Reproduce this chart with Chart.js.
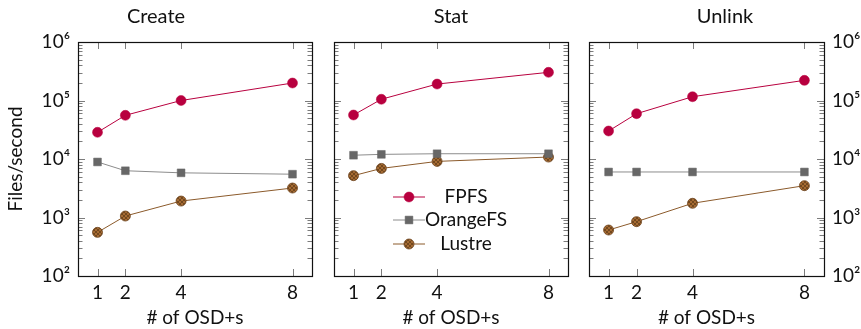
<!DOCTYPE html>
<html>
<head>
<meta charset="utf-8">
<script src="https://cdn.jsdelivr.net/npm/chart.js@4"></script>
<style>
  html, body { margin: 0; padding: 0; background: #fff; }
  #wrap { position: relative; width: 861px; height: 329px; }
  canvas { position: absolute; top: 0; }
</style>
</head>
<body>
<div id="wrap">
  <canvas id="c1" width="318" height="329" style="left:0px"></canvas>
  <canvas id="c2" width="246" height="329" style="left:328px"></canvas>
  <canvas id="c3" width="278" height="329" style="left:583px"></canvas>
</div>
<script>
(function () {
    "use strict";

    // x categories and y tick values
    const osds = [1, 2, 4, 8];
    const yTicks = [1e2, 1e3, 1e4, 1e5, 1e6];

    // Files/second
    const fpfsCreate = [28600, 55800, 100000, 199000];
    const orangeCreate = [8900, 6300, 5800, 5500];
    const lustreCreate = [557, 1060, 1910, 3190];

    const fpfsStat = [56500, 105000, 191000, 303000];
    const orangeStat = [11600, 12000, 12300, 12300];
    const lustreStat = [5190, 6900, 9100, 10800];

    const fpfsUnlink = [30100, 59500, 116000, 221000];
    const orangeUnlink = [6000, 6000, 6000, 6000];
    const lustreUnlink = [611, 849, 1750, 3500];

    const FONT = 'Lato, "DejaVu Sans", sans-serif';
    const sup = { 2: '\u00b2', 3: '\u00b3', 4: '\u2074', 5: '\u2075', 6: '\u2076' };

    // crosshatch fill for the Lustre markers
    function hatch() {
        const c = document.createElement('canvas');
        c.width = 4; c.height = 4;
        const g = c.getContext('2d');
        g.fillStyle = '#a56a32';
        g.fillRect(0, 0, 4, 4);
        g.strokeStyle = '#5c3915';
        g.lineWidth = 0.7;
        g.beginPath();
        g.moveTo(0, 0); g.lineTo(4, 4);
        g.moveTo(4, 0); g.lineTo(0, 4);
        g.stroke();
        return g.createPattern(c, 'repeat');
    }
    const lustreFill = hatch();

    function pts(vals) {
        return osds.map((x, i) => ({ x: x, y: vals[i] }));
    }

    function makeSets(f, o, l) {
        return [
            {
                label: 'FPFS', data: pts(f),
                borderColor: '#b8003f', backgroundColor: '#b8003f',
                pointBackgroundColor: '#b8003f', pointBorderColor: '#b8003f',
                pointStyle: 'circle', pointRadius: 5, pointBorderWidth: 0.5,
                borderWidth: 1, tension: 0
            },
            {
                label: 'OrangeFS', data: pts(o),
                borderColor: '#8c8c8c', backgroundColor: '#676767',
                pointBackgroundColor: '#676767', pointBorderColor: '#676767',
                pointStyle: 'rect', pointRadius: 5.5, pointBorderWidth: 0.5,
                borderWidth: 1, tension: 0
            },
            {
                label: 'Lustre', data: pts(l),
                borderColor: '#8b5a2b', backgroundColor: lustreFill,
                pointBackgroundColor: lustreFill, pointBorderColor: '#6e4520',
                pointStyle: 'circle', pointRadius: 5, pointBorderWidth: 0.8,
                borderWidth: 1, tension: 0
            }
        ];
    }

    // inward ticks on all four sides plus the box
    const frameTicks = {
        id: 'frameTicks',
        beforeDatasetsDraw(chart) {
            const ctx = chart.ctx;
            const a = chart.chartArea;
            const x = chart.scales.x, y = chart.scales.y;
            function seg(x1, y1, x2, y2) {
                ctx.beginPath(); ctx.moveTo(x1, y1); ctx.lineTo(x2, y2); ctx.stroke();
            }
            ctx.save();
            ctx.strokeStyle = '#5a5a5a';
            ctx.lineWidth = 0.8;
            for (let e = 2; e < 6; e++) {
                for (let k = 2; k <= 9; k++) {
                    const py = Math.round(y.getPixelForValue(k * Math.pow(10, e))) + 0.5;
                    seg(a.left, py, a.left + 4.5, py);
                    seg(a.right - 4.5, py, a.right, py);
                }
            }
            yTicks.forEach(v => {
                const py = Math.round(y.getPixelForValue(v)) + 0.5;
                seg(a.left, py, a.left + 7, py);
                seg(a.right - 7, py, a.right, py);
            });
            osds.forEach(v => {
                const px = Math.round(x.getPixelForValue(v)) + 0.5;
                seg(px, a.bottom, px, a.bottom - 7);
                seg(px, a.top, px, a.top + 7);
            });
            ctx.strokeStyle = '#111';
            ctx.lineWidth = 1.2;
            ctx.strokeRect(a.left + 0.5, a.top + 0.5, a.right - a.left, a.bottom - a.top);
            ctx.restore();
        }
    };

    // legend drawn inside the Stat panel
    const innerLegend = {
        id: 'innerLegend',
        afterDatasetsDraw(chart) {
            const ctx = chart.ctx;
            const a = chart.chartArea;
            const rows = [155, 178, 202];
            ctx.save();
            chart.data.datasets.forEach((ds, i) => {
                const cy = a.top + rows[i];
                const x0 = a.left + 59, x1 = a.left + 91, xm = (x0 + x1) / 2;
                ctx.strokeStyle = ds.borderColor;
                ctx.lineWidth = 1;
                ctx.beginPath(); ctx.moveTo(x0, cy); ctx.lineTo(x1, cy); ctx.stroke();
                ctx.fillStyle = ds.pointBackgroundColor;
                ctx.strokeStyle = ds.pointBorderColor;
                ctx.lineWidth = ds.pointBorderWidth;
                Chart.helpers.drawPoint(ctx, { pointStyle: ds.pointStyle, radius: ds.pointRadius, borderWidth: ds.pointBorderWidth, rotation: 0 }, xm, cy);
                ctx.fillStyle = '#111';
                ctx.font = '19px ' + FONT;
                ctx.textAlign = 'center';
                ctx.textBaseline = 'middle';
                ctx.fillText(ds.label, a.left + 132, cy);
            });
            ctx.restore();
        }
    };

    function makeChart(id, title, sets, yPos, padL, padR) {
        const showY = yPos !== null;
        const plugins = [frameTicks];
        if (title === 'Stat') plugins.push(innerLegend);
        return new Chart(document.getElementById(id).getContext('2d'), {
            type: 'line',
            data: { datasets: sets },
            plugins: plugins,
            options: {
                responsive: false,
                animation: false,
                layout: { padding: { left: padL, right: padR, top: 0, bottom: 0 } },
                plugins: {
                    legend: { display: false },
                    tooltip: { enabled: false },
                    title: {
                        display: true, text: title, color: '#111',
                        font: { family: FONT, size: 20, weight: 'normal' },
                        padding: { top: 5, bottom: 13 }
                    }
                },
                scales: {
                    x: {
                        type: 'linear', min: 0.3, max: 8.7,
                        grid: { display: false, drawTicks: false },
                        border: { display: false },
                        afterBuildTicks: s => { s.ticks = osds.map(v => ({ value: v })); },
                        afterFit: s => { s.height = 53; },
                        ticks: {
                            padding: 5, color: '#111', maxRotation: 0,
                            font: { family: FONT, size: 19 },
                            callback: v => String(v)
                        },
                        title: {
                            display: true, text: '# of OSD+s', color: '#111',
                            font: { family: FONT, size: 19 },
                            padding: { top: 0, bottom: 0 }
                        }
                    },
                    y: {
                        type: 'logarithmic', min: 100, max: 1e6,
                        display: showY,
                        position: showY ? yPos : 'left',
                        grid: { display: false, drawTicks: false },
                        border: { display: false },
                        afterBuildTicks: s => { s.ticks = yTicks.map(v => ({ value: v })); },
                        afterFit: s => { if (showY) s.width = (yPos === 'left' ? 78 : 37); },
                        ticks: {
                            padding: 8, color: '#111',
                            font: { family: FONT, size: 19 },
                            callback: v => '10' + sup[Math.round(Math.log10(v))]
                        },
                        title: {
                            display: yPos === 'left', text: 'Files/second', color: '#111',
                            font: { family: FONT, size: 19 },
                            padding: { top: 4, bottom: 0 }
                        }
                    }
                }
            }
        });
    }

    makeChart('c1', 'Create', makeSets(fpfsCreate, orangeCreate, lustreCreate), 'left', 0, 6);
    makeChart('c2', 'Stat', makeSets(fpfsStat, orangeStat, lustreStat), null, 6, 6);
    makeChart('c3', 'Unlink', makeSets(fpfsUnlink, orangeUnlink, lustreUnlink), 'right', 6, 0);
})();
</script>
</body>
</html>
